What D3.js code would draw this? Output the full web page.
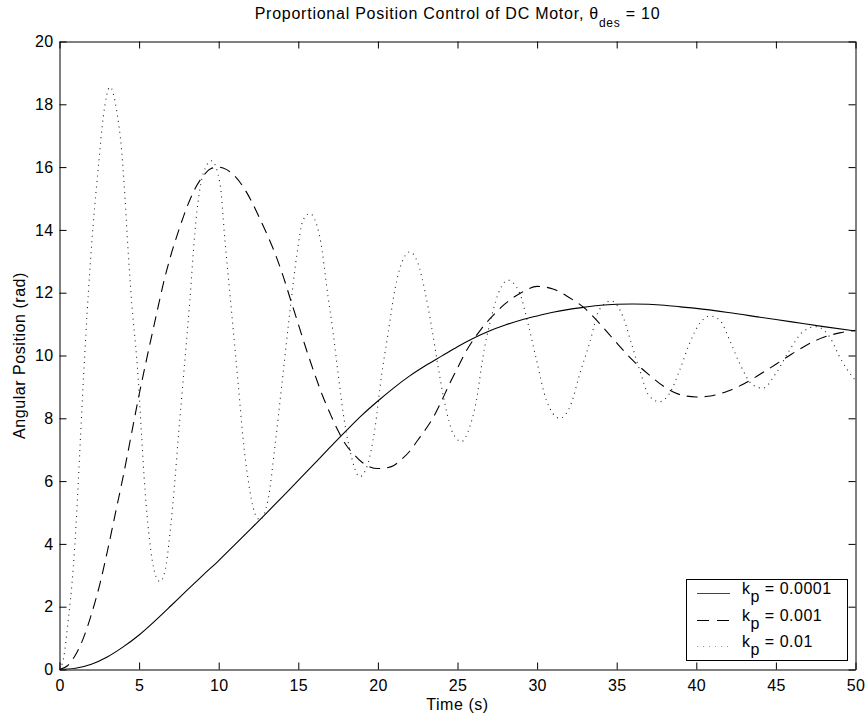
<!DOCTYPE html>
<html>
<head>
<meta charset="utf-8">
<script src="https://cdn.jsdelivr.net/npm/d3@7"></script>
<style>
  html, body { margin: 0; padding: 0; background: #fff; }
  svg { display: block; }
  text { font-family: "Liberation Sans", Arial, Helvetica, sans-serif; fill: #000; }
</style>
</head>
<body>
<svg id="chart" width="868" height="719"></svg>
<script>
// ---- data ----
const xTicks = [0, 5, 10, 15, 20, 25, 30, 35, 40, 45, 50];
const yTicks = [0, 2, 4, 6, 8, 10, 12, 14, 16, 18, 20];
const seriesLabels = ["0.0001", "0.001", "0.01"];

// k_p = 0.0001 (solid)
const kp1 = [[0,0],[1,0.04],[2,0.17],[3,0.4],[4,0.72],[5,1.1],[6,1.55],[7,2.03],[8,2.52],[9,3.0],
  [10,3.47],[11,3.97],[12,4.47],[13,4.98],[14,5.5],[15,6.02],[16,6.55],[17,7.08],[18,7.6],[19,8.1],
  [20,8.55],[21,8.97],[22,9.35],[23,9.68],[24,9.98],[25,10.28],[26,10.55],[27,10.78],[28,10.97],
  [29,11.13],[30,11.26],[31,11.38],[32,11.47],[33,11.54],[34,11.6],[35,11.63],[36,11.64],[37,11.63],
  [38,11.6],[39,11.55],[40,11.5],[42,11.37],[44,11.22],[46,11.07],[48,10.92],[50,10.78]];

// k_p = 0.001 (dashed)
const kp2 = [[0,0],[0.5,0.12],[1,0.46],[1.5,1.0],[2,1.75],[2.5,2.65],[3,3.75],[3.5,4.95],[4,6.15],
  [4.5,7.45],[5,8.75],[5.5,9.95],[6,11.1],[6.6,12.45],[7,13.2],[7.5,14.0],[8,14.72],[8.5,15.3],
  [9,15.7],[9.5,15.95],[10,16.0],[10.5,15.92],[11,15.72],[11.5,15.4],[12,14.97],[12.5,14.45],
  [13,13.9],[13.5,13.3],[14,12.6],[14.5,11.8],[15,11.0],[15.5,10.2],[16,9.45],[16.5,8.75],
  [17,8.15],[17.5,7.6],[18,7.15],[18.5,6.85],[19,6.6],[19.5,6.45],[20,6.4],[20.5,6.42],[21,6.5],
  [21.5,6.7],[22,6.95],[22.5,7.3],[23,7.65],[23.5,8.05],[24,8.55],[24.5,9.1],[25,9.6],[25.5,10.1],
  [26,10.5],[26.5,10.85],[27,11.15],[28,11.65],[29,12.0],[30,12.2],[31,12.12],[32,11.85],[33,11.5],
  [34,10.98],[35,10.4],[36,9.85],[37,9.4],[38,9.0],[39,8.75],[40,8.68],[41,8.72],[42,8.87],[43,9.1],
  [44,9.4],[45,9.72],[46,10.05],[47,10.35],[48,10.58],[49,10.72],[50,10.8]];

// k_p = 0.01 (dotted)
const kp3 = [[0,0],[0.25,0.35],[0.55,1.58],[0.87,3.28],[1.08,4.98],[1.29,7.1],[1.5,9.22],[1.81,11.98],
  [2.12,14.2],[2.44,16.0],[2.75,17.6],[3.17,18.55],[3.59,17.8],[3.9,16.54],[4.11,15.05],[4.32,13.25],
  [4.49,11.98],[4.95,9.22],[5.16,7.42],[5.37,5.72],[5.68,4.02],[5.99,3.07],[6.31,2.8],[6.62,3.12],
  [6.94,4.34],[7.25,6.04],[7.5,7.63],[7.77,9.22],[8.19,11.77],[8.5,13.9],[9.03,15.8],[9.55,16.2],
  [10.08,15.48],[10.39,13.68],[10.7,11.98],[11.22,9.12],[11.54,7.31],[11.85,6.04],[12.27,4.98],
  [12.59,4.77],[13.1,5.4],[13.53,7.1],[13.95,9.0],[14.58,11.87],[14.89,13.14],[15.3,14.31],
  [15.72,14.52],[16.35,13.78],[16.87,11.87],[17.19,10.71],[17.5,9.43],[17.82,8.16],[18.24,6.99],
  [18.86,6.14],[19.38,6.57],[19.8,7.63],[20.22,9.33],[20.64,10.71],[21.06,12.08],[21.48,12.93],
  [22.0,13.3],[22.52,12.93],[22.94,12.08],[23.37,10.92],[23.78,9.65],[24.2,8.48],[24.72,7.52],
  [25.25,7.26],[25.77,7.73],[26.19,8.58],[26.6,9.96],[27.13,11.23],[27.65,12.08],[28.17,12.4],
  [28.91,11.98],[29.43,11.02],[29.96,9.86],[30.58,8.58],[31.42,8.0],[32.15,8.48],[32.67,9.4],
  [33.3,10.4],[33.9,11.45],[34.66,11.74],[35.4,11.23],[35.92,10.39],[36.44,9.54],[37.07,8.69],
  [37.7,8.53],[38.33,8.8],[38.96,9.54],[39.58,10.39],[40.21,11.02],[40.84,11.26],[41.47,11.13],
  [42.09,10.49],[42.72,9.75],[43.55,9.06],[44.18,8.96],[45.0,9.43],[45.86,10.17],[46.7,10.76],
  [47.53,10.92],[48.36,10.6],[49.1,9.86],[49.8,9.33],[50,9.2]];

// ---- layout ----
const svg = d3.select("#chart");
const L = 59.5, R = 855.5, T = 41.5, B = 669.5;
const x = d3.scaleLinear().domain([0, 50]).range([L, R]);
const y = d3.scaleLinear().domain([0, 20]).range([B, T]);
const fs = 16;
const ls = "0.55px";

svg.append("rect").attr("x", L).attr("y", T).attr("width", R - L).attr("height", B - T)
  .attr("fill", "#fff");

svg.append("clipPath").attr("id", "clip").append("rect")
  .attr("x", L).attr("y", T).attr("width", R - L).attr("height", B - T);

// lines
const line = d3.line().x(d => x(d[0])).y(d => y(d[1])).curve(d3.curveMonotoneX);
const styles = [
  { data: kp1, dash: null, color: "#000", w: 1.1 },
  { data: kp2, dash: "11,7", color: "#000", w: 1.1 },
  { data: kp3, dash: "1,4.5", color: "#222", w: 1.1 }
];
const g = svg.append("g").attr("clip-path", "url(#clip)");
styles.forEach(s => {
  g.append("path").attr("d", line(s.data)).attr("fill", "none")
    .attr("stroke", s.color).attr("stroke-width", s.w)
    .attr("stroke-dasharray", s.dash);
});

// axes
function styleAxis(sel) {
  sel.attr("font-family", null).attr("font-size", null);
  sel.selectAll("path.domain").attr("stroke", "#000").attr("stroke-width", 1);
  sel.selectAll(".tick line").attr("stroke", "#000").attr("stroke-width", 1);
  sel.selectAll("text").style("font-size", fs + "px").style("letter-spacing", "0.3px")
    .attr("fill", "#000");
}
svg.append("g").attr("transform", `translate(0,${B})`)
  .call(d3.axisBottom(x).tickValues(xTicks).tickSize(-7).tickSizeOuter(0).tickPadding(10))
  .call(styleAxis);
svg.append("g").attr("transform", `translate(0,${T})`)
  .call(d3.axisTop(x).tickValues(xTicks).tickSize(-7).tickSizeOuter(0).tickFormat(""))
  .call(styleAxis);
svg.append("g").attr("transform", `translate(${L},0)`)
  .call(d3.axisLeft(y).tickValues(yTicks).tickSize(-7).tickSizeOuter(0).tickPadding(6))
  .call(styleAxis);
svg.append("g").attr("transform", `translate(${R},0)`)
  .call(d3.axisRight(y).tickValues(yTicks).tickSize(-7).tickSizeOuter(0).tickFormat(""))
  .call(styleAxis);

// title
const title = svg.append("text").attr("x", (L + R) / 2).attr("y", 18.5)
  .attr("text-anchor", "middle").style("font-size", fs + "px").style("letter-spacing", "0.75px");
title.append("tspan").text("Proportional Position Control of DC Motor, θ");
title.append("tspan").attr("dy", 8).style("font-size", "12px").text("des");
title.append("tspan").attr("dy", -8).text(" = 10");

// axis labels
svg.append("text").attr("x", (L + R) / 2).attr("y", 710).attr("text-anchor", "middle")
  .style("font-size", fs + "px").style("letter-spacing", ls).text("Time (s)");
svg.append("text").attr("transform", `translate(25,${(T + B) / 2}) rotate(-90)`)
  .attr("text-anchor", "middle").style("font-size", fs + "px").style("letter-spacing", ls)
  .text("Angular Position (rad)");

// legend
const lg = svg.append("g");
lg.append("rect").attr("x", 686.5).attr("y", 579.5).attr("width", 161).attr("height", 81)
  .attr("fill", "#fff").attr("stroke", "#000").attr("stroke-width", 1);
const rowsY = [593.5, 620.5, 646.5];
styles.forEach((s, i) => {
  lg.append("line").attr("x1", 697).attr("x2", 730).attr("y1", rowsY[i]).attr("y2", rowsY[i])
    .attr("stroke", i === 2 ? "#999" : (i === 0 ? "#444" : "#000")).attr("stroke-width", 1.1)
    .attr("stroke-dasharray", i === 1 ? "12,8" : (i === 2 ? "1,5" : null));
  const t = lg.append("text").attr("x", 742).attr("y", rowsY[i]).style("font-size", fs + "px")
    .style("letter-spacing", "0.5px");
  t.append("tspan").text("k");
  t.append("tspan").attr("dy", 8).text("p");
  t.append("tspan").attr("dy", -8).text(" = " + seriesLabels[i]);
});
</script>
</body>
</html>
